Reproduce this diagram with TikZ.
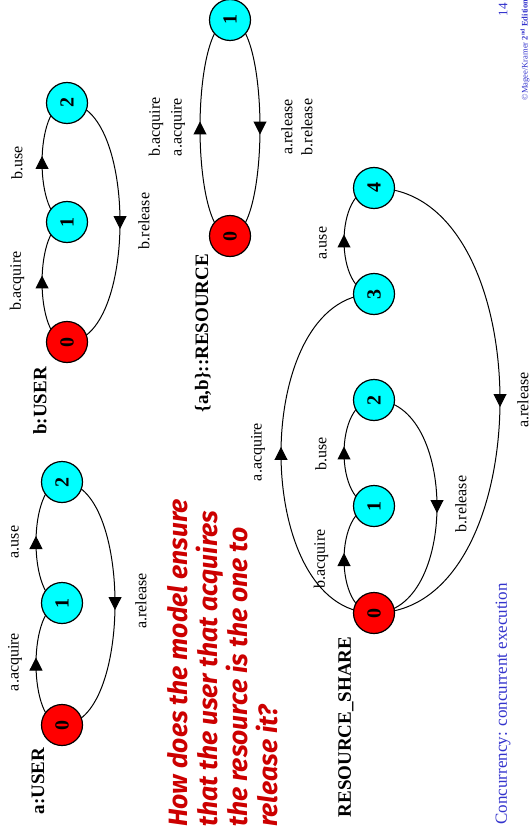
\documentclass[tikz,border=0pt]{standalone}
\usepackage{fontspec}
\setmainfont{Liberation Serif}
\newfontfamily\handfont{Fira Sans}
\usetikzlibrary{arrows.meta,decorations.markings,backgrounds}

\definecolor{stcyan}{RGB}{0,255,255}
\definecolor{stred}{RGB}{255,0,0}
\definecolor{askred}{RGB}{204,0,0}
\definecolor{slideblue}{RGB}{51,51,204}

\tikzset{
  ltsnode/.style={circle, draw=black, line width=1.2pt, minimum size=41pt,
    inner sep=0pt, rotate=90, font=\fontsize{20}{20}\selectfont\bfseries},
  zerostate/.style={ltsnode, fill=stred},
  otherstate/.style={ltsnode, fill=stcyan},
  trans/.style={line width=1pt, postaction={decorate},
    decoration={markings, mark=at position 0.5 with
      {\arrow[xshift=6.5pt]{Triangle[length=13pt,width=13pt]}}}},
  act/.style={rotate=90, inner sep=0pt, font=\fontsize{16}{16}\selectfont},
  proc/.style={rotate=90, inner sep=0pt, font=\fontsize{19}{19}\selectfont\bfseries},
  askline/.style={rotate=90, anchor=base west, inner sep=0pt, text=askred,
    font=\handfont\fontsize{26.5}{30}\selectfont\bfseries\itshape},
  footer/.style={rotate=90, inner sep=0pt, text=slideblue},
}

\begin{document}
\begin{tikzpicture}[x=1pt, y=-1pt]
\useasboundingbox (0,0) rectangle (531,834);

% ---------- a:USER ----------
\node[zerostate]  (au0) at (62,725) {0};
\node[otherstate] (au1) at (62,603) {1};
\node[otherstate] (au2) at (62,482) {2};
\node[proc] (autitle) at (38,781) {a:USER};
\node[act] (auacq) at (15,662) {a.acquire};
\node[act] (auuse) at (15,542) {a.use};
\node[act] (aurel) at (141,601) {a.release};

% ---------- b:USER ----------
\node[zerostate]  (bu0) at (67,342) {0};
\node[otherstate] (bu1) at (67,222) {1};
\node[otherstate] (bu2) at (67,103) {2};
\node[proc] (butitle) at (40,401) {b:USER};
\node[act] (buacq) at (17,281) {b.acquire};
\node[act] (buuse) at (17,163) {b.use};
\node[act] (burel) at (144,221) {b.release};

% ---------- {a,b}::RESOURCE ----------
\node[zerostate]  (r0) at (230,236) {0};
\node[otherstate] (r1) at (230,20) {1};
\node[proc] (rtitle) at (203,333) {\{a,b\}::RESOURCE};
\node[act] (rbacq) at (156,127) {b.acquire};
\node[act] (raacq) at (178,127) {a.acquire};
\node[act] (rarel) at (287,127) {a.release};
\node[act] (rbrel) at (307,127) {b.release};

% ---------- RESOURCE_SHARE ----------
\node[zerostate]  (s0) at (374,613) {0};
\node[otherstate] (s1) at (374,506) {1};
\node[otherstate] (s2) at (374,400) {2};
\node[otherstate] (s3) at (374,294) {3};
\node[otherstate] (s4) at (374,188) {4};
\node[proc] (stitle) at (346,727) {RESOURCE\_SHARE};
\node[act] (sbacq) at (321,559) {b.acquire};
\node[act] (sbuse) at (321,454) {b.use};
\node[act] (sbrel) at (461,504) {b.release};
\node[act] (saacq) at (258,452) {a.acquire};
\node[act] (sause) at (323,243) {a.use};
\node[act] (sarel) at (523,400) {a.release};

% ---------- transitions: half ellipses between state centres ----------
\begin{scope}[on background layer]
  \draw[trans] (au0.center) .. controls +(-34.7,0) and +(-34.7,0) .. (au1.center);
  \draw[trans] (au1.center) .. controls +(-34.7,0) and +(-34.7,0) .. (au2.center);
  \draw[trans] (au2.center) .. controls +(70.7,0) and +(70.7,0) .. (au0.center);

  \draw[trans] (bu0.center) .. controls +(-33.3,0) and +(-33.3,0) .. (bu1.center);
  \draw[trans] (bu1.center) .. controls +(-33.3,0) and +(-33.3,0) .. (bu2.center);
  \draw[trans] (bu2.center) .. controls +(70.7,0) and +(70.7,0) .. (bu0.center);

  \draw[trans] (r0.center) .. controls +(-40,0) and +(-40,0) .. (r1.center);
  \draw[trans] (r1.center) .. controls +(40,0) and +(40,0) .. (r0.center);

  \draw[trans] (s0.center) .. controls +(-40,0) and +(-40,0) .. (s1.center);
  \draw[trans] (s1.center) .. controls +(-40,0) and +(-40,0) .. (s2.center);
  \draw[trans] (s2.center) .. controls +(84,0) and +(84,0) .. (s0.center);
  \draw[trans] (s0.center) .. controls +(-124,0) and +(-124,0) .. (s3.center);
  \draw[trans] (s3.center) .. controls +(-40,0) and +(-40,0) .. (s4.center);
  \draw[trans] (s4.center) .. controls +(168,0) and +(168,0) .. (s0.center);
\end{scope}

% ---------- question ----------
\node[askline] (q1) at (187,827) {How does the model ensure};
\node[askline] (q2) at (217,827) {that the user that acquires};
\node[askline] (q3) at (247,827) {the resource is the one to};
\node[askline] (q4) at (277,827) {release it?};

% ---------- slide footer ----------
\node[footer, font=\fontsize{17}{17}\selectfont] (topic) at (503,704) {Concurrency: concurrent execution};
\node[footer, font=\fontsize{13}{13}\selectfont] (pageno) at (503,10) {14};
\node[footer, font=\fontsize{8.5}{8.5}\selectfont] (copy) at (525,50) {©Magee/Kramer \textbf{2\textsuperscript{nd} Edition}};
\end{tikzpicture}
\end{document}
